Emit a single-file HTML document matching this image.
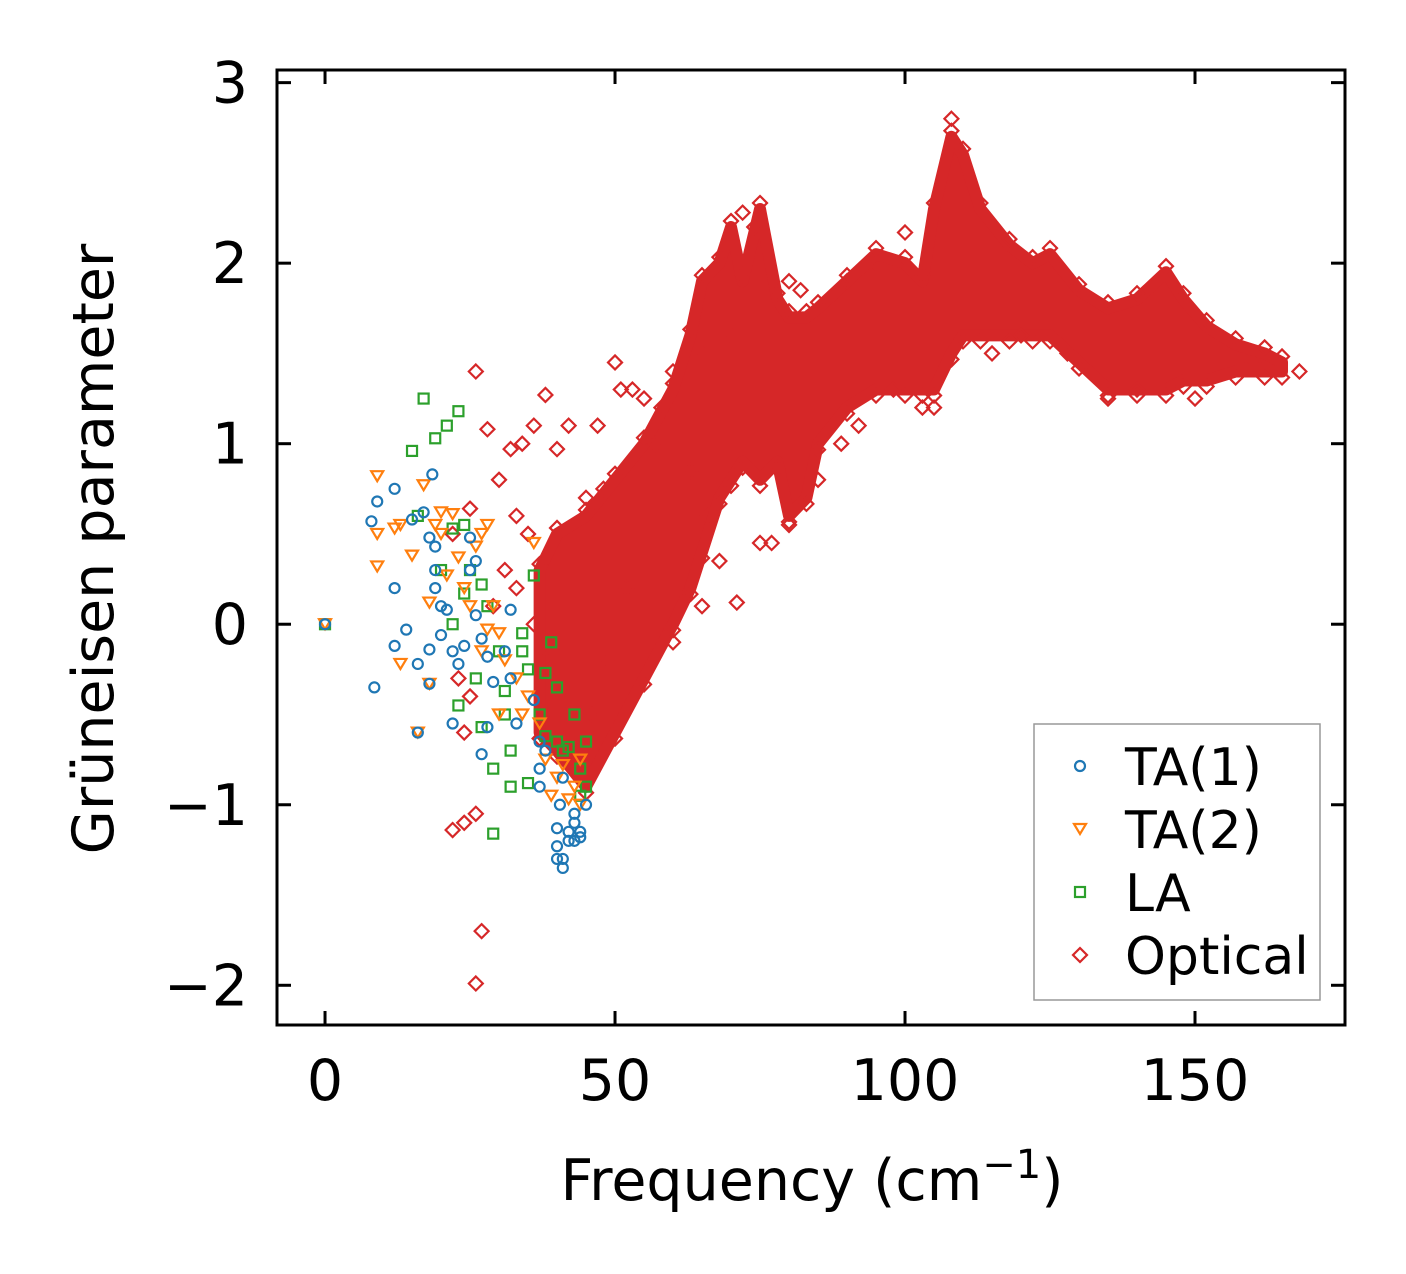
<!DOCTYPE html>
<html><head><meta charset="utf-8"><style>
html,body{margin:0;padding:0;background:#fff;}
svg{display:block;font-family:"DejaVu Sans","Liberation Sans",sans-serif;}
</style></head><body>
<svg id="chart" width="1406" height="1274" viewBox="0 0 1406 1274">
<g id="plot"></g>
<g id="axes"></g>
<g id="legend"></g>
</svg>
<script>
// ---- data ----
const xTicks=[0,50,100,150];
const yTicks=[-2,-1,0,1,2,3];
const yTickLabels=["\u22122","\u22121","0","1","2","3"];
const seriesNames=["TA(1)","TA(2)","LA","Optical"];
const bandX=[37,40,45,50,55,60,63,65,68,70,72,75,78,80,83,85,90,95,100,103,105,108,110,113,118,122,125,130,135,140,145,148,152,157,162,165];
const bandUpper=[0.3,0.5,0.6,0.8,1.0,1.3,1.6,1.9,2.0,2.2,1.9,2.3,1.8,1.7,1.7,1.75,1.9,2.05,2.0,1.9,2.3,2.7,2.6,2.3,2.1,2.0,2.05,1.85,1.75,1.8,1.95,1.8,1.65,1.55,1.5,1.45];
const bandLower=[-0.6,-0.7,-0.9,-0.6,-0.3,0.0,0.2,0.4,0.7,0.8,0.9,0.8,0.9,0.6,0.7,1.0,1.2,1.3,1.3,1.3,1.3,1.5,1.6,1.6,1.6,1.6,1.6,1.45,1.3,1.3,1.3,1.35,1.35,1.4,1.4,1.4];
const optX=[26,28,30,32,34,36,38,40,42,47,50,51,53,55,57,48,45,33,25,22,23,24,25,26,22,24,27,26,31,29,60,62,65,71,68,66,75,77,80,85,89,92,98,103,105,100,108,115,120,128,135,140,150,168,160,70,72,74,95,90,82,80,65,60,58,63,55,52,49,46,44,40,38,36,35,33];
const optY=[1.4,1.08,0.8,0.97,1.0,1.1,1.27,0.97,1.1,1.1,1.45,1.3,1.3,1.25,1.0,0.75,0.7,0.6,0.64,0.5,-0.3,-0.6,-0.4,-1.05,-1.14,-1.1,-1.7,-1.99,0.3,0.1,-0.1,0.15,0.1,0.12,0.35,0.6,0.45,0.45,0.55,0.8,1.0,1.1,1.3,1.2,1.2,2.17,2.8,1.5,1.6,1.5,1.25,1.3,1.25,1.4,1.45,1.6,2.28,2.2,2.0,1.9,1.85,1.9,1.5,1.4,1.2,0.85,0.4,0.2,-0.2,-0.5,-0.8,-0.4,-0.2,0.0,0.5,0.2];
const ta1X=[0,8,9,8.5,12,12,12,14,15,16,16,17,18,18,18,18.5,19,19,19,20,20,21,22,22,23,24,25,25,26,26,27,27,28,28,29,31,32,32,33,36,37,37,37,38,40,40,40,40.5,41,41,41,42,42,43,43,44,44,45,43];
const ta1Y=[0,0.57,0.68,-0.35,0.75,0.2,-0.12,-0.03,0.58,-0.22,-0.6,0.62,0.48,-0.14,-0.33,0.83,0.43,0.3,0.2,0.1,-0.06,0.08,-0.55,-0.15,-0.22,-0.12,0.48,0.3,0.35,0.05,-0.72,-0.08,-0.57,-0.18,-0.32,-0.15,0.08,-0.3,-0.55,-0.42,-0.65,-0.8,-0.9,-0.7,-1.3,-1.23,-1.13,-1.0,-0.85,-1.35,-1.3,-1.2,-1.15,-1.1,-1.05,-1.15,-1.18,-1.0,-1.2];
const ta2X=[0,9,9,9,12,13,13,15,16,17,18,18,19,20,20,21,22,23,24,25,26,27,28,27,28,29,30,30,31,33,34,35,36,37,38,39,40,41,42,43,44,44];
const ta2Y=[0,0.82,0.5,0.32,0.53,0.55,-0.22,0.38,-0.6,0.77,0.12,-0.33,0.55,0.62,0.5,0.27,0.61,0.37,0.2,0.1,0.43,0.5,0.55,-0.15,-0.03,0.1,-0.05,-0.5,-0.2,-0.3,-0.5,-0.4,0.45,-0.55,-0.75,-0.95,-0.85,-0.78,-0.97,-0.9,-0.75,-1.0];
const laX=[0,15,16,17,19,20,21,22,22,23,23,24,24,25,26,27,27,28,29,29,30,31,31,32,32,34,34,35,36,35,37,38,38,39,40,40,41,42,43,44,45,45,44];
const laY=[0,0.96,0.6,1.25,1.03,0.3,1.1,0.53,0.0,1.18,-0.45,0.55,0.17,0.3,-0.3,0.22,-0.57,0.1,-0.8,-1.16,-0.15,-0.37,-0.5,-0.7,-0.9,-0.05,-0.15,-0.25,0.27,-0.88,-0.5,-0.27,-0.62,-0.1,-0.35,-0.65,-0.7,-0.68,-0.5,-0.8,-0.65,-0.9,-0.95];

// ---- scales ----
const X0=277,X1=1345,Y0=70,Y1=1025;
const xMin=-8.28,xMax=175.86,yMin=-2.22,yMax=3.07;
const sx=v=>X0+(v-xMin)/(xMax-xMin)*(X1-X0);
const sy=v=>Y1-(v-yMin)/(yMax-yMin)*(Y1-Y0);
const NS="http://www.w3.org/2000/svg";
function mk(tag,attrs,parent){const e=document.createElementNS(NS,tag);for(const k in attrs)e.setAttribute(k,attrs[k]);parent.appendChild(e);return e;}
const colors=["#1f77b4","#ff7f0e","#2ca02c","#d62728"];
function marker(kind,cx,cy,parent,col){
  let e;
  if(kind===0){e=mk('circle',{cx:cx,cy:cy,r:5,fill:'none',stroke:col,'stroke-width':2.2},parent);}
  else if(kind===1){e=mk('polygon',{points:`${cx-6},${cy-5} ${cx+6},${cy-5} ${cx},${cy+5}`,fill:'none',stroke:col,'stroke-width':2.2},parent);}
  else if(kind===2){e=mk('rect',{x:cx-5,y:cy-5,width:10,height:10,fill:'none',stroke:col,'stroke-width':2.2},parent);}
  else {e=mk('polygon',{points:`${cx},${cy-7} ${cx+7},${cy} ${cx},${cy+7} ${cx-7},${cy}`,fill:'none',stroke:col,'stroke-width':2.2},parent);}
  return e;
}
const plot=document.getElementById('plot');
let pts=[];
bandX.forEach((x,i)=>pts.push(sx(x)+','+sy(bandUpper[i])));
for(let i=bandX.length-1;i>=0;i--)pts.push(sx(bandX[i])+','+sy(bandLower[i]));
const band=mk('polygon',{points:pts.join(' '),fill:colors[3],stroke:colors[3],'stroke-width':12,'stroke-linejoin':'round'},plot);


bandX.forEach((x,i)=>{
  const a=marker(3,sx(x),sy(bandUpper[i])-6,plot,colors[3]);
  
  
  const b=marker(3,sx(x),sy(bandLower[i])+6,plot,colors[3]);
  
  
});
optX.forEach((x,i)=>{
  const e=marker(3,sx(x),sy(optY[i]),plot,colors[3]);
  
  
});
laX.forEach((x,i)=>{
  const e=marker(2,sx(x),sy(laY[i]),plot,colors[2]);
  
  
});
ta2X.forEach((x,i)=>{
  const e=marker(1,sx(x),sy(ta2Y[i]),plot,colors[1]);
  
  
});
ta1X.forEach((x,i)=>{
  const e=marker(0,sx(x),sy(ta1Y[i]),plot,colors[0]);
  
  
});
const axes=document.getElementById('axes');
const fr=mk('rect',{x:X0,y:Y0,width:X1-X0,height:Y1-Y0,fill:'none',stroke:'#000','stroke-width':3},axes);


xTicks.forEach(t=>{
  const x=sx(t);
  mk('line',{x1:x,y1:Y1,x2:x,y2:Y1-14,stroke:'#000','stroke-width':3},axes);
  mk('line',{x1:x,y1:Y0,x2:x,y2:Y0+14,stroke:'#000','stroke-width':3},axes);
  const tx=mk('text',{x:x,y:1100,'text-anchor':'middle','font-size':57,fill:'#000'},axes);
  tx.textContent=t;
  
  
});
yTicks.forEach((t,i)=>{
  const y=sy(t);
  mk('line',{x1:X0,y1:y,x2:X0+14,y2:y,stroke:'#000','stroke-width':3},axes);
  mk('line',{x1:X1,y1:y,x2:X1-14,y2:y,stroke:'#000','stroke-width':3},axes);
  const tx=mk('text',{x:248,y:y+20,'text-anchor':'end','font-size':57,fill:'#000'},axes);
  tx.textContent=yTickLabels[i];
  
  
});
const xl=mk('text',{x:812,y:1200,'text-anchor':'middle','font-size':57,fill:'#000'},axes);
xl.innerHTML='Frequency (cm<tspan dy="-22" font-size="40">\u22121</tspan><tspan dy="22">)</tspan>';


const yl=mk('text',{x:0,y:0,'text-anchor':'middle','font-size':57,fill:'#000',transform:'translate(113,549) rotate(-90)'},axes);
yl.textContent='Grüneisen parameter';


const lg=document.getElementById('legend');
const lb=mk('rect',{x:1034,y:724,width:286,height:276,fill:'#fff',stroke:'#999','stroke-width':1.5},lg);


seriesNames.forEach((n,i)=>{
  const y=766+i*63;
  const m=marker(i,1080,y,lg,colors[i]);
  
  
  const t=mk('text',{x:1125,y:y+19,'font-size':52,fill:'#000'},lg);
  t.textContent=n;
  
  
});
</script>
</body></html>
